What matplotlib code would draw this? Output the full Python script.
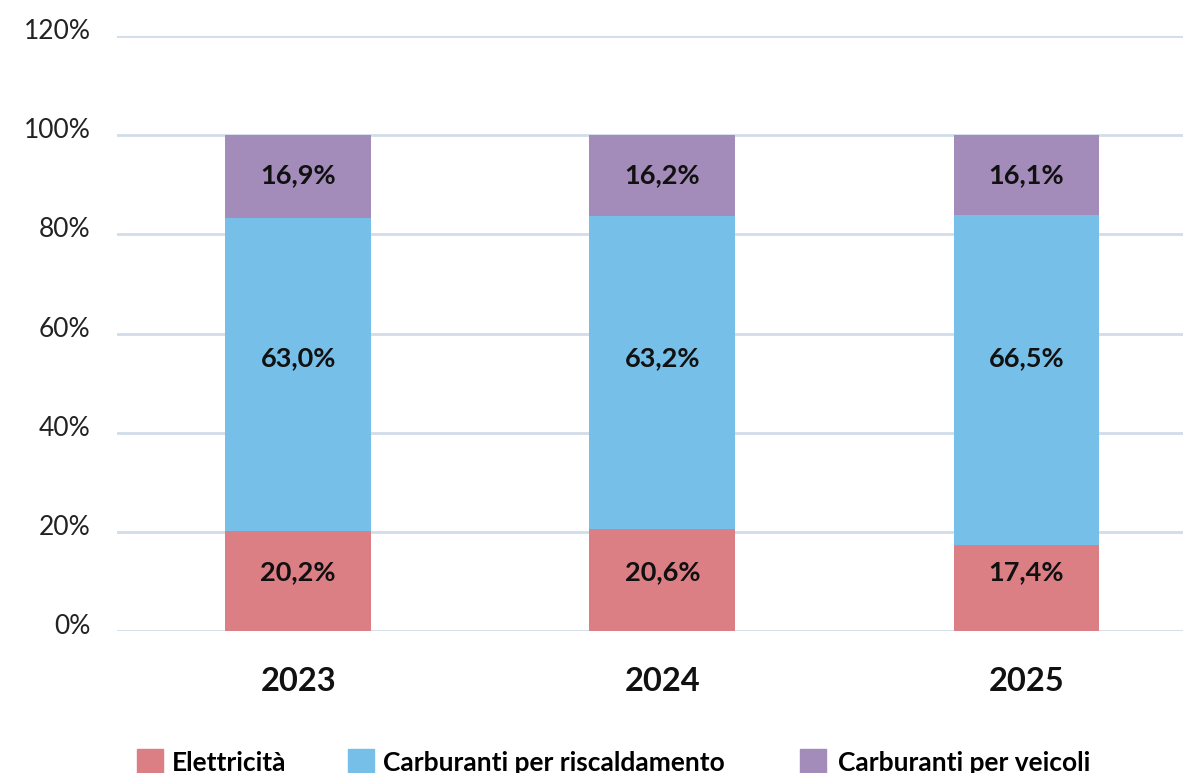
import numpy as np
import matplotlib
matplotlib.use('Agg')
import matplotlib.pyplot as plt
import matplotlib.transforms as mtransforms
from matplotlib.patches import Patch

plt.rcParams['font.family'] = ['Lato', 'DejaVu Sans']

years = ['2023', '2024', '2025']
series = ['Elettricità', 'Carburanti per riscaldamento', 'Carburanti per veicoli']
elettricita = [20.2, 20.6, 17.4]
riscaldamento = [63.0, 63.2, 66.5]
veicoli = [16.9, 16.2, 16.1]
colors = ['#dc7f85', '#76bfe9', '#a38bba']
label_y = [11.9, 55.0, 91.9]  # label heights used in the original, one per series

fig = plt.figure(figsize=(11.83, 7.73), dpi=100)
ax = fig.add_axes([0.099, 0.1837, 0.901, 0.7697])

x = np.arange(len(years))
bottom = np.zeros(len(years))
for vals, col, ly in zip([elettricita, riscaldamento, veicoli], colors, label_y):
    vals = np.array(vals)
    ax.bar(x, vals, width=0.4, bottom=bottom, color=col, zorder=3)
    for xi, v in zip(x, vals):
        ax.text(xi, ly, f'{v:.1f}%'.replace('.', ','), ha='center', va='center',
                fontsize=19.5, fontweight='bold', color='#111111', zorder=4)
    bottom += vals

ax.set_xlim(-0.497, 2.43)
ax.set_ylim(0, 120)
ax.set_yticks(np.arange(0, 121, 20))
ax.set_yticklabels([f'{v}%' for v in range(0, 121, 20)], fontsize=19, color='#222222')
ax.set_xticks(x)
ax.set_xticklabels(years, fontsize=23.5, fontweight='bold', color='#111111')
ax.tick_params(axis='y', length=0, pad=19)
ax.tick_params(axis='x', length=0, pad=26)
shift = mtransforms.ScaledTranslation(0, 7 / 100, fig.dpi_scale_trans)
for lbl in ax.get_yticklabels():
    lbl.set_horizontalalignment('right')
    lbl.set_transform(lbl.get_transform() + shift)
ax.grid(axis='y', color='#d2dde9', linewidth=2, zorder=0)
for s in ax.spines.values():
    s.set_visible(False)

# legend entries, placed one by one like in the original
leg_x = [0.1158, 0.2942, 0.6763]
for name, col, lx in zip(series, colors, leg_x):
    lg = fig.legend([Patch(color=col)], [name], loc='center left',
                    bbox_to_anchor=(lx, 0.0142), frameon=False,
                    prop={'size': 19, 'weight': 'bold'},
                    handlelength=1.0, handleheight=1.1,
                    handletextpad=0.34 if lx < 0.5 else 0.45,
                    borderpad=0, borderaxespad=0)

fig.savefig('out.png', dpi=100)
plt.close()
